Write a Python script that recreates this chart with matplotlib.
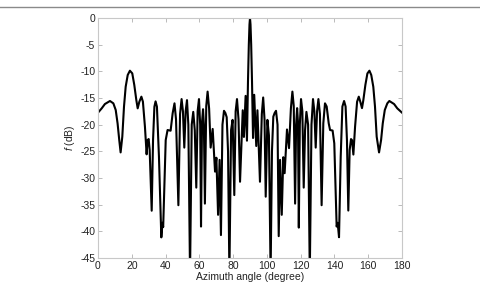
import matplotlib
matplotlib.use("Agg")
import matplotlib.pyplot as plt
from matplotlib.lines import Line2D

plt.rcParams['font.family'] = ['Liberation Sans', 'DejaVu Sans']
plt.rcParams['axes.unicode_minus'] = False
plt.rcParams['mathtext.fontset'] = 'custom'
plt.rcParams['mathtext.it'] = 'Liberation Sans:italic'
plt.rcParams['mathtext.rm'] = 'Liberation Sans'

# azimuth angle (degree) and pattern level (dB)
angle = [0, 2.2, 4.1, 7.1, 9.1, 10.5, 11.6, 12.6, 13.4, 14.4, 15.4, 16.4, 17.6, 18.9, 20.3,
         21.5, 22.7, 23.5, 24.5, 25.7, 26.6, 27.8, 28.8, 29.4, 30.0, 30.6, 31.8, 32.6, 33.4,
         34.1, 34.9, 36.1, 37.5, 38.2, 38.6, 40.1, 41.2, 43.0, 44.2, 45.3, 46.2, 47.6, 48.6,
         49.5, 50.3, 51.1, 51.9, 52.7, 53.5, 54.5, 55.5, 56.4, 57.3, 58.2, 59.0, 59.8, 60.5,
         61.0, 61.6, 62.2, 62.7, 63.3, 64.1, 64.9, 65.8, 66.7, 67.9, 69.3, 70.1, 71.1, 72.0,
         72.8, 73.7, 74.6, 75.4, 76.2, 77.0, 77.8, 78.8, 79.7, 80.7, 81.5, 82.3, 83.2, 84.1,
         85.7, 86.4, 87.4, 88.2, 88.8, 89.3, 89.7, 90.0, 90.3, 90.7, 91.2, 91.8, 92.5, 93.7,
         94.4, 95.9, 97.0, 97.8, 98.6, 99.3, 100.3, 101.2, 102.2, 103.0, 103.8, 104.6, 105.4,
         106.3, 107.0, 107.8, 108.8, 109.7, 110.5, 111.9, 113.1, 114.2, 115.1, 115.9, 116.7,
         117.3, 117.9, 118.4, 118.9, 119.5, 120.2, 121.0, 121.8, 122.6, 123.4, 124.4, 125.4,
         126.4, 127.3, 128.1, 128.9, 129.7, 130.5, 131.4, 132.4, 133.4, 134.4, 135.4, 136.6,
         137.4, 138.9, 139.9, 141.3, 141.9, 142.7, 143.7, 144.7, 145.7, 146.6, 147.4, 148.2,
         149.0, 149.8, 150.4, 151.2, 152.2, 153.4, 154.4, 155.3, 156.3, 157.1, 158.3, 159.5,
         160.7, 161.8, 163.0, 164.0, 165.0, 166.4, 167.6, 168.6, 169.8, 171.3, 172.5, 175.3,
         177.2, 180]
level = [-17.75, -16.94, -16.13, -15.56, -16.0, -17.25, -19.75, -22.9, -25.2, -22.25, -16.63,
         -12.88, -10.69, -9.88, -10.38, -12.56, -15.38, -16.94, -15.69, -14.75, -15.69, -20.38,
         -25.56, -22.88, -22.69, -24.75, -36.13, -22.88, -16.63, -15.63, -16.63, -26.0, -41.13,
         -38.4, -39.2, -22.88, -21.0, -21.13, -17.88, -16.0, -19.0, -35.1, -18.0, -15.2, -17.5,
         -24.3, -17.5, -15.4, -20.0, -48.0, -20.0, -17.6, -21.0, -31.8, -17.5, -15.2, -20.0,
         -39.1, -19.5, -17.1, -20.0, -34.8, -16.5, -13.8, -17.0, -24.3, -20.8, -28.8, -26.2,
         -36.9, -26.6, -40.7, -20.0, -17.4, -17.8, -18.6, -25.0, -48.0, -21.0, -19.1, -33.2,
         -17.5, -15.2, -19.0, -30.7, -17.3, -22.3, -14.6, -23.0, -12.0, -5.0, -1.2, 0.0, -1.2,
         -5.0, -12.0, -22.5, -14.4, -24.0, -17.3, -30.7, -18.0, -14.9, -19.0, -33.5, -19.1,
         -22.0, -48.0, -25.0, -18.5, -17.8, -17.4, -20.0, -40.9, -26.6, -36.9, -26.1, -29.1,
         -20.9, -24.4, -17.0, -13.8, -16.5, -34.8, -20.0, -16.9, -19.5, -39.3, -20.0, -15.2,
         -17.5, -31.8, -21.0, -17.6, -20.0, -48.0, -20.0, -15.2, -17.5, -24.3, -17.5, -15.2,
         -18.0, -35.1, -19.75, -16.0, -16.6, -19.75, -21.0, -21.1, -23.5, -39.1, -38.4, -41.1,
         -26.0, -16.6, -15.56, -16.6, -22.9, -36.1, -24.75, -22.7, -22.9, -25.6, -20.4, -15.7,
         -14.75, -15.7, -16.9, -15.4, -12.56, -10.4, -9.88, -10.7, -12.9, -16.6, -22.25, -25.2,
         -22.9, -19.75, -17.25, -16.0, -15.56, -16.13, -16.94, -17.75]

x_ticks = list(range(0, 181, 20))
y_ticks = list(range(-45, 1, 5))

fig = plt.figure(figsize=(4.81, 2.84), dpi=100)
ax = fig.add_axes([0.2037, 0.0915, 0.6321, 0.8451])

ax.plot(angle, level, color='black', linewidth=1.5, solid_joinstyle='round')

ax.set_xlim(0, 180)
ax.set_ylim(-45, 0)
ax.set_xticks(x_ticks)
ax.set_yticks(y_ticks)
ax.tick_params(direction='in', length=3, width=0.6, color='#b0b0b0',
               labelsize=7.5, labelcolor='#222222', top=True, right=True, pad=2)
for sp in ax.spines.values():
    sp.set_color('#c8c8c8')
    sp.set_linewidth(0.8)

ax.set_xlabel('Azimuth angle (degree)', fontsize=7.5, labelpad=1, color='#222222')
ax.set_ylabel('$f$ (dB)', fontsize=7.5, labelpad=2, color='#222222')

# thin grey rule across the top of the figure
fig.add_artist(Line2D([0, 1], [1 - 7 / 284, 1 - 7 / 284], color='#8a8a8a', linewidth=1.0))

fig.savefig('out.png', dpi=100)
